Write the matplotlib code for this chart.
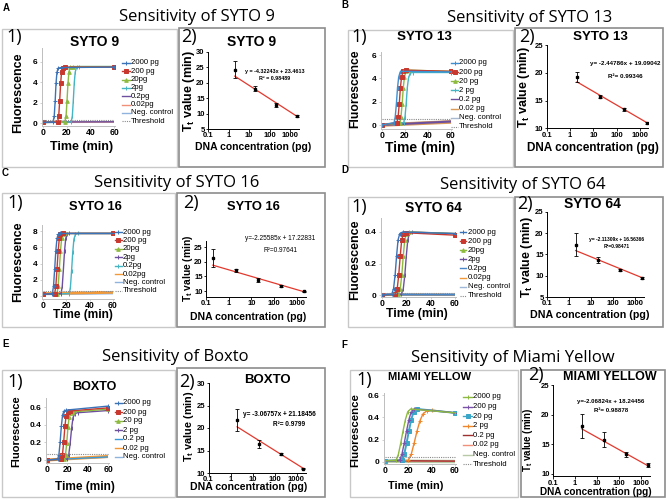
import numpy as np
import matplotlib
matplotlib.use("Agg")
import matplotlib.pyplot as plt
from matplotlib.patches import Rectangle
from matplotlib.lines import Line2D
from matplotlib.ticker import LogLocator, NullFormatter
from matplotlib.transforms import blended_transform_factory

plt.rcParams['font.family'] = ['Liberation Sans', 'DejaVu Sans']
plt.rcParams['mathtext.fontset'] = 'custom'
plt.rcParams['mathtext.rm'] = 'Liberation Sans:bold'
plt.rcParams['mathtext.it'] = 'Liberation Sans:bold'
plt.rcParams['mathtext.bf'] = 'Liberation Sans:bold'

W, H = 666, 500

# ======================= DATA =======================
time_ticks = [0, 20, 40, 60]

# ---- Panel A : SYTO 9 ----
A_labels = ['2000 pg', '200 pg', '20pg', '2pg', '0.2pg', '0.02pg', 'Neg. control', 'Threshold']
A_t = [[0, 8.5, 9.5, 10.3, 11.0, 11.8, 12.8, 15, 60],
       [0, 12.3, 13.3, 14.1, 14.9, 15.7, 16.8, 19, 60],
       [0, 18.5, 19.5, 20.3, 21.1, 21.9, 23.0, 25, 60],
       [0, 23.8, 24.8, 25.6, 26.4, 27.2, 28.4, 30, 60],
       [0, 60], [0, 60], [0, 60]]
A_f = [[0.05, 0.1, 0.7, 2.2, 3.9, 5.0, 5.4, 5.45, 5.5],
       [0.05, 0.1, 0.7, 2.2, 3.9, 5.0, 5.45, 5.5, 5.5],
       [0.05, 0.1, 0.7, 2.2, 3.9, 5.0, 5.5, 5.55, 5.55],
       [0.05, 0.1, 0.7, 2.2, 3.9, 5.0, 5.5, 5.55, 5.55],
       [0.1, 0.12], [0.08, 0.1], [0.05, 0.08]]
A_threshold = 0.3
A_conc = [2, 20, 200, 2000]
A_tt = [24.3, 18.0, 12.9, 9.2]
A_err = [2.8, 0.8, 0.6, 0.2]
A_fit = [-4.32243, 23.4613]
A_eq = ['y = -4.32243x + 23.4613', 'R² = 0.98489']

# ---- Panel B : SYTO 13 ----
B_labels = ['2000 pg', '200 pg', '20 pg', '2 pg', '0.2 pg', '0.02 pg', 'Neg. control', 'Threshold']
B_t = [[0, 10.5, 11.5, 12.5, 13.5, 14.5, 15.8, 18, 60],
       [0, 13, 14, 15, 16, 17, 18.3, 20.5, 60],
       [0, 15.5, 16.5, 17.5, 18.5, 19.5, 20.8, 23, 60],
       [0, 18.8, 20, 21, 22, 23, 24.5, 27, 60],
       [0, 60], [0, 60], [0, 60]]
B_f = [[0, 0.2, 0.7, 1.8, 3.2, 4.1, 4.55, 4.6, 4.55],
       [0, 0.2, 0.7, 1.8, 3.2, 4.1, 4.6, 4.7, 4.6],
       [0, 0.2, 0.7, 1.8, 3.2, 4.1, 4.6, 4.7, 4.6],
       [0, 0.2, 0.7, 1.8, 3.2, 4.0, 4.45, 4.5, 4.5],
       [0.0, 0.3], [0.0, 0.26], [0.05, 0.3]]
B_threshold = 0.5
B_conc = [2, 20, 200, 2000]
B_tt = [19.2, 15.7, 13.4, 11.0]
B_err = [0.9, 0.3, 0.3, 0.15]
B_fit = [-2.44786, 19.09042]
B_eq = ['y= -2.44786x + 19.09042', 'R²= 0.99346']

# ---- Panel C : SYTO 16 ----
C_labels = ['2000 pg', '200 pg', '20pg', '2pg', '0.2pg', '0.02pg', 'Neg. control', 'Threshold']
C_t = [[0, 8, 9, 10, 11, 12, 13, 15, 60],
       [0, 10, 11, 12, 13, 14, 15, 17, 60],
       [0, 12, 13, 14, 15, 16, 17, 19, 60],
       [0, 15.5, 16.5, 17.5, 18.5, 19.5, 20.5, 22.5, 60],
       [0, 22.5, 23.5, 24.5, 25.5, 26.5, 27.8, 30, 60],
       [0, 60], [0, 60]]
C_f = [[0.2, 0.3, 1.2, 3.3, 5.6, 7.1, 7.6, 7.7, 7.7],
       [0.2, 0.3, 1.2, 3.3, 5.6, 7.1, 7.6, 7.7, 7.7],
       [0.2, 0.3, 1.2, 3.3, 5.6, 7.1, 7.6, 7.7, 7.7],
       [0.2, 0.3, 1.2, 3.3, 5.6, 7.1, 7.6, 7.7, 7.7],
       [0.2, 0.3, 1.1, 3.1, 5.4, 7.0, 7.6, 7.7, 7.7],
       [0.3, 0.45], [0.2, 0.3]]
C_threshold = 0.6
C_conc = [0.2, 2, 20, 200, 2000]
C_tt = [21.3, 17.0, 13.8, 11.8, 9.9]
C_err = [3.0, 0.6, 0.6, 0.3, 0.2]
C_fit = [-2.25585, 17.22831]
C_eq = ['y=-2.25585x + 17.22831', 'R²=0.97641']

# ---- Panel D : SYTO 64 ----
D_labels = ['2000 pg', '200 pg', '20pg', '2pg', '0.2pg', '0.02pg', 'Neg. control', 'Threshold']
D_t = [[0, 8, 9.5, 10.8, 12, 13.2, 14.6, 17, 60],
       [0, 11, 12.5, 13.8, 15, 16.2, 17.6, 20, 60],
       [0, 13.5, 15, 16.3, 17.5, 18.7, 20.1, 22.5, 60],
       [0, 16, 17.5, 18.8, 20, 21.2, 22.6, 25, 60],
       [0, 60], [0, 60], [0, 60]]
D_f = [[0, 0.005, 0.04, 0.13, 0.25, 0.35, 0.39, 0.40, 0.39],
       [0, 0.005, 0.04, 0.13, 0.25, 0.35, 0.39, 0.395, 0.38],
       [0, 0.005, 0.04, 0.13, 0.25, 0.35, 0.39, 0.40, 0.39],
       [0, 0.005, 0.04, 0.13, 0.25, 0.35, 0.395, 0.40, 0.39],
       [0.003, 0.002], [0.002, 0.0], [0.004, 0.003]]
D_threshold = 0.015
D_conc = [2, 20, 200, 2000]
D_tt = [17.3, 13.8, 11.4, 9.5]
D_err = [2.7, 0.7, 0.3, 0.2]
D_fit = [-2.11309, 16.56366]
D_eq = ['y= -2.11309x + 16.56366', 'R²=0.98471']

# ---- Panel E : BOXTO ----
E_labels = ['2000 pg', '200 pg', '20 pg', '2 pg', '0.2 pg', '0.02 pg', 'Neg. control']
E_t = [[0, 10.5, 11.7, 12.9, 14.1, 15.3, 16.8, 19, 60],
       [0, 14, 15.2, 16.4, 17.6, 18.8, 20.3, 22.5, 60],
       [0, 17, 18.2, 19.4, 20.6, 21.8, 23.3, 25.5, 60],
       [0, 20, 21.4, 22.8, 24.2, 25.6, 27.3, 30, 60],
       [0, 60], [0, 60], [0, 60]]
E_f = [[0, 0.01, 0.06, 0.2, 0.38, 0.51, 0.555, 0.565, 0.61],
       [0, 0.01, 0.06, 0.2, 0.38, 0.5, 0.545, 0.555, 0.59],
       [0, 0.01, 0.06, 0.19, 0.37, 0.49, 0.535, 0.545, 0.575],
       [0, 0.01, 0.06, 0.19, 0.36, 0.48, 0.525, 0.535, 0.56],
       [0.0, 0.035], [0.0, 0.04], [0.005, 0.03]]
E_threshold = 0.07
E_conc = [2, 20, 200, 2000]
E_tt = [21.8, 16.4, 14.2, 11.0]
E_err = [2.4, 0.9, 0.3, 0.2]
E_fit = [-3.06757, 21.18456]
E_eq = ['y= -3.06757x + 21.18456', 'R²= 0.9799']

# ---- Panel F : MIAMI YELLOW ----
F_labels = ['2000 pg', '200 pg', '20 pg', '2 pg', '0.2 pg', '0.02 pg', 'Neg. control', 'Threshold']
F_t = [[0, 9.5, 11.5, 13.5, 15.5, 17.5, 19.5, 22, 60],
       [0, 12.5, 14.5, 16.5, 18.5, 20.5, 22.5, 25, 60],
       [0, 14.5, 16.5, 18.5, 20.5, 22.5, 24.5, 27.5, 60],
       [0, 20, 22.5, 25, 27.5, 30, 32.5, 36, 40, 60],
       [0, 60], [0, 60], [0, 60]]
F_f = [[0.01, 0.015, 0.07, 0.17, 0.28, 0.38, 0.45, 0.475, 0.44],
       [0.01, 0.015, 0.07, 0.17, 0.28, 0.38, 0.45, 0.475, 0.44],
       [0.01, 0.015, 0.07, 0.17, 0.28, 0.38, 0.45, 0.475, 0.44],
       [0.01, 0.015, 0.07, 0.17, 0.28, 0.37, 0.43, 0.46, 0.465, 0.44],
       [0.012, 0.008], [0.01, 0.006], [0.008, 0.004]]
F_threshold = 0.045
F_conc = [2, 20, 200, 2000]
F_tt = [18.1, 15.8, 13.3, 11.5]
F_err = [2.0, 1.3, 0.4, 0.3]
F_fit = [-2.06824, 18.24456]
F_eq = ['y=-2.06824x + 18.24456', 'R²= 0.98878']

conc_ticks = [0.1, 1, 10, 100, 1000]
conc_ticklabels = ['0.1', '1', '10', '100', '1000']

# ======================= STYLE =======================
BLUE, RED, GREEN, CYAN, PURPLE = '#3b73b9', '#c8382e', '#8dba3f', '#45b5c4', '#6c4f9e'
SALMON, ORANGE, LBLUE = '#f0907a', '#f29a3a', '#8fb3dd'
A_style = dict(colors=[BLUE, RED, GREEN, CYAN, PURPLE, SALMON, LBLUE],
               markers=['+', 's', '^', '|', '', '', ''], widths=[1, 1, 1, 1, 1, 1, 1])
B_style = dict(colors=['#3d8fd1', RED, GREEN, CYAN, PURPLE, '#d99a5a', '#a9b9cf'],
               markers=['|', 's', '^', '|', '', '', ''], widths=[1, 1, 1, 1, 1.5, 2.6, 1.5])
C_style = dict(colors=[BLUE, RED, GREEN, PURPLE, CYAN, ORANGE, LBLUE],
               markers=['+', 's', '^', '|', '|', '', ''], widths=[1, 1, 1, 1, 1, 2, 1.2])
D_style = dict(colors=[BLUE, RED, GREEN, PURPLE, '#4a86c8', ORANGE, '#9fb8d8'],
               markers=['+', 's', '^', '|', '', '', ''], widths=[1, 1, 1, 1, 1.5, 1.5, 1.5])
E_style = dict(colors=[BLUE, RED, GREEN, PURPLE, '#3a9ad9', ORANGE, LBLUE],
               markers=['+', 's', '^', '|', '', '', ''], widths=[1, 1, 1, 1, 1, 2.2, 1])
F_style = dict(colors=[GREEN, '#7b52ab', '#3aa6c8', '#f0862a', '#9e2f2f', SALMON, '#b8c9a8'],
               markers=['|', '+', 's', '+', '', '', ''], widths=[1, 1, 1.4, 1, 1, 1, 2.5])

# ======================= LAYOUT (pixels) =======================
A_lay = dict(letter=(3, 8), title=('Sensitivity of SYTO 9', 197, 17),
             box1=(2, 29, 177, 167), box2=(179, 28, 325, 167), n1=(6, 37), n2=(181, 37),
             t1=('SYTO 9', 95, 42, 10), t2=('SYTO 9', 252, 42, 10),
             x0=43, x60=114, y0=123, yv=62, v=6, ylim=(-0.3, 7.4), yticks=[0, 2, 4, 6],
             leg=(122, 130, 131, 63, 8.3), flu=(18, 93, 9), time=(82, 147, 9),
             x01=208, dec=20.6, xhi=2500, yA=52, vA=30, yB=129, vB=5, ylim2=(5, 30),
             yticks2=[5, 10, 15, 20, 25, 30], eq=(275, 71, 79, 3.9, 'bold'),
             dna=(253, 147, 7.5), ttl=(189, 91, 9))
B_lay = dict(letter=(341, 5), title=('Sensitivity of SYTO 13', 530, 18),
             box1=(348, 30, 513, 167), box2=(515, 28, 663, 167), n1=(351, 37), n2=(519, 37),
             t1=('SYTO 13', 424, 37, 9.6), t2=('SYTO 13', 600, 37, 9.6),
             x0=382, x60=451, y0=125, yv=55, v=6, ylim=(-0.3, 6.3), yticks=[0, 2, 4, 6],
             leg=(451, 458, 459, 63, 9.1), flu=(355, 89, 8.7), time=(420, 148, 10),
             x01=546.7, dec=23.3, xhi=2300, yA=45, vA=25, yB=128.3, vB=10, ylim2=(10, 25),
             yticks2=[10, 15, 20, 25], eq=(625, 63, 76, 4.5, 'bold'),
             dna=(593, 148, 8.5), ttl=(524, 87, 9))
C_lay = dict(letter=(2, 173), title=('Sensitivity of SYTO 16', 177, 183),
             box1=(2, 193, 175, 327), box2=(177, 193, 325, 327), n1=(7, 203), n2=(183, 203),
             t1=('SYTO 16', 95, 207, 9.3), t2=('SYTO 16', 253, 207, 9.3),
             x0=43, x60=113, y0=296, yv=231, v=8, ylim=(-0.4, 8.8), yticks=[0, 2, 4, 6, 8],
             leg=(115, 122, 123, 232, 8.4), flu=(18, 262, 9), time=(83, 315, 8.6),
             x01=206, dec=22.7, xhi=2500, yA=247, vA=25, yB=291, vB=10, ylim2=(8, 27),
             yticks2=[10, 15, 20, 25], eq=(280, 238, 250, 4.7, 'normal'),
             dna=(248, 317, 7.5), ttl=(188, 268, 7.4))
D_lay = dict(letter=(341, 170), title=('Sensitivity of SYTO 64', 523, 185),
             box1=(348, 197, 513, 327), box2=(515, 197, 663, 327), n1=(351, 207), n2=(517, 204),
             t1=('SYTO 64', 433, 208, 10), t2=('SYTO 64', 592, 204, 10),
             x0=382, x60=455, y0=295, yv=232, v=0.4, ylim=(-0.015, 0.49), yticks=[0, 0.2, 0.4],
             leg=(460, 466, 468, 232, 9.1), flu=(355, 260, 9), time=(417, 314, 8.8),
             x01=547, dec=22, xhi=2600, yA=212, vA=25, yB=297, vB=5, ylim2=(5, 25),
             yticks2=[5, 10, 15, 20, 25], eq=(617, 239, 247, 3.6, 'bold'),
             dna=(590, 315, 7.7), ttl=(527, 257, 9))
E_lay = dict(letter=(2, 344), title=('Sensitivity of Boxto', 175, 357),
             box1=(2, 370, 175, 497), box2=(177, 368, 325, 497), n1=(7, 382), n2=(179, 382),
             t1=('BOXTO', 94, 387, 9), t2=('BOXTO', 267, 380, 9.5),
             x0=47, x60=108, y0=460, yv=407, v=0.6, ylim=(-0.03, 0.7), yticks=[0, 0.2, 0.4, 0.6],
             leg=(115, 122, 123, 403, 9), flu=(16, 431, 8), time=(85, 487, 8.6),
             x01=208.5, dec=22, xhi=2600, yA=383, vA=30, yB=473, vB=10, ylim2=(10, 30),
             yticks2=[10, 15, 20, 25, 30], eq=(279, 415, 425, 4.7, 'bold'),
             dna=(249, 487, 7.6), ttl=(189, 426, 7.8))
E_lay['eqx2'] = 289
F_lay = dict(letter=(341, 345), title=('Sensitivity of Miami Yellow', 513, 358),
             box1=(350, 370, 518, 497), box2=(521, 370, 665, 497), n1=(356, 380), n2=(528, 375),
             t1=('MIAMI YELLOW', 430, 377, 8), t2=('MIAMI YELLOW', 610, 377, 9),
             x0=385, x60=455, y0=462, yv=395, v=0.6, ylim=(-0.02, 0.62), yticks=[0, 0.2, 0.4, 0.6],
             leg=(463, 472, 473, 397, 9.6), flu=(355, 430, 8.2), time=(416, 486, 7.9),
             x01=553, dec=22, xhi=2600, yA=385, vA=25, yB=474, vB=10, ylim2=(9.6, 25),
             yticks2=[10, 15, 20, 25], eq=(611, 402, 411, 4.4, 'bold'),
             dna=(596, 492, 7.2), ttl=(528, 440, 7))

fig = plt.figure(figsize=(W / 100, H / 100), dpi=100)
fig.patch.set_facecolor('white')


def frac_rect(l, t, r, b):
    return [l / W, 1 - b / H, (r - l) / W, (b - t) / H]


def ftext(x, y, s, **kw):
    return fig.text(x / W, 1 - y / H, s, **kw)


def box(l, t, r, b, color, lw):
    fig.add_artist(Rectangle((l / W, 1 - b / H), (r - l) / W, (b - t) / H,
                             transform=fig.transFigure, fill=False, ec=color, lw=lw, zorder=0.5))


def fmt(v):
    return '{:g}'.format(v)


def draw_panel(letter, lay, labels, times, fluor, thr, style, conc, tt, err, fit, eq):
    ftext(*lay['letter'], letter, fontsize=7, fontweight='bold', ha='left', va='center')
    s, x, y = lay['title']
    ftext(x, y, s, fontsize=12, family='Open Sans', ha='center', va='center')
    box(*lay['box1'], '#c8c8c8', 1.0)
    box(*lay['box2'], '#8c8c8c', 1.2)
    ftext(*lay['n1'], '1)', fontsize=13, family='Open Sans', ha='left', va='center')
    ftext(*lay['n2'], '2)', fontsize=13, family='Open Sans', ha='left', va='center')
    s, x, y, fs = lay['t1']
    ftext(x, y, s, fontsize=fs, fontweight='bold', ha='center', va='center')
    s, x, y, fs = lay['t2']
    ftext(x, y, s, fontsize=fs, fontweight='bold', ha='center', va='center')

    # ---- amplification curves ----
    x0, x60 = lay['x0'], lay['x60']
    ppm = (x60 - x0) / 60.0
    xlo, xhi = -1.0, 61.0
    ppu = (lay['y0'] - lay['yv']) / lay['v']
    ylo, yhi = lay['ylim']
    ybot = lay['y0'] - ylo * ppu
    ax = fig.add_axes(frac_rect(x0 + xlo * ppm, lay['y0'] - yhi * ppu, x0 + xhi * ppm, ybot))
    ax.set_zorder(2)
    ax.patch.set_alpha(0)
    n = len(times)
    for i in range(n - 1, -1, -1):
        c = style['colors'][i]
        m = style['markers'][i] or None
        ax.plot(times[i], fluor[i], color=c, lw=style['widths'][i], marker=m,
                ms=2.6, mew=0.7, mfc=c, solid_capstyle='butt')
    ax.plot([0, 60], [thr, thr], ls=(0, (1, 1)), color='#8a8a8a', lw=0.8)
    ax.set_xlim(xlo, xhi)
    ax.set_ylim(ylo, yhi)
    ax.set_xticks(time_ticks)
    ax.set_xticklabels([])
    ax.set_yticks(lay['yticks'])
    ax.set_yticklabels([fmt(v) for v in lay['yticks']], fontsize=6, fontweight='bold')
    for sp in ['top', 'right']:
        ax.spines[sp].set_visible(False)
    for sp in ['left', 'bottom']:
        ax.spines[sp].set_color('#bdbdbd')
        ax.spines[sp].set_linewidth(0.7)
    ax.tick_params(length=1.5, width=0.5, color='#bdbdbd', labelcolor='black', pad=1.5)
    trans = blended_transform_factory(ax.transData, fig.transFigure)
    for tv in time_ticks:
        ax.text(tv, 1 - (ybot + 6.5) / H, fmt(tv), transform=trans, fontsize=6.2,
                fontweight='bold', color='black', ha='center', va='center',
                clip_on=False, zorder=10)

    # ---- legend (drawn entry by entry) ----
    hx0, hx1, tx, ly, dy = lay['leg']
    for i, lab in enumerate(labels):
        yy = 1 - (ly + i * dy) / H
        if lab == 'Threshold':
            fig.add_artist(Line2D([hx0 / W, hx1 / W], [yy, yy], transform=fig.transFigure,
                                  color='#8a8a8a', lw=0.8, ls=(0, (1, 1))))
        else:
            c = style['colors'][i]
            fig.add_artist(Line2D([hx0 / W, hx1 / W], [yy, yy], transform=fig.transFigure,
                                  color=c, lw=1.0))
            m = style['markers'][i]
            if m:
                fig.add_artist(Line2D([(hx0 + hx1) / 2 / W], [yy], transform=fig.transFigure,
                                      color=c, marker=m, ms=2.6, mew=0.7, lw=0))
        fig.text(tx / W, yy, lab, fontsize=5.6, ha='left', va='center')

    ftext(*lay['flu'][:2], 'Fluorescence', fontsize=lay['flu'][2], fontweight='bold',
          rotation=90, ha='center', va='center')
    ftext(*lay['time'][:2], 'Time (min)', fontsize=lay['time'][2], fontweight='bold',
          ha='center', va='center')

    # ---- Tt vs concentration ----
    dec = lay['dec']
    x01 = lay['x01']
    left = x01
    right = x01 + dec * (np.log10(lay['xhi']) + 1)
    ppu2 = (lay['yB'] - lay['yA']) / (lay['vA'] - lay['vB'])
    ylo2, yhi2 = lay['ylim2']
    top = lay['yA'] - (yhi2 - lay['vA']) * ppu2
    bottom = lay['yA'] + (lay['vA'] - ylo2) * ppu2
    ax2 = fig.add_axes(frac_rect(left, top, right, bottom))
    ax2.set_zorder(2)
    ax2.patch.set_alpha(0)
    ax2.set_xscale('log')
    xs = np.array([conc[0], conc[-1]], dtype=float)
    ax2.plot(xs, fit[0] * np.log10(xs) + fit[1], color='#e2392e', lw=0.9, zorder=2)
    ax2.errorbar(conc, tt, yerr=err, fmt='s', color='black', ms=1.8, capsize=1.2,
                 elinewidth=0.6, capthick=0.6, zorder=3)
    ax2.set_xlim(0.1, lay['xhi'])
    ax2.set_ylim(ylo2, yhi2)
    ax2.set_xticks(conc_ticks)
    ax2.set_xticklabels(conc_ticklabels, fontsize=5.5, fontweight='bold')
    ax2.xaxis.set_minor_locator(LogLocator(base=10, subs=np.arange(2, 10)))
    ax2.xaxis.set_minor_formatter(NullFormatter())
    ax2.set_yticks(lay['yticks2'])
    ax2.set_yticklabels([fmt(v) for v in lay['yticks2']], fontsize=5.5, fontweight='bold')
    for sp in ['top', 'right']:
        ax2.spines[sp].set_visible(False)
    for sp in ['left', 'bottom']:
        ax2.spines[sp].set_linewidth(0.7)
    ax2.tick_params(which='major', length=1.8, width=0.6, pad=0.6)
    ax2.tick_params(which='minor', length=1, width=0.4)
    ex, ey1, ey2, efs, ew = lay['eq']
    ex2 = lay.get('eqx2', ex)
    ftext(ex, ey1, eq[0], fontsize=efs, fontweight=ew, ha='center', va='center')
    ftext(ex2, ey2, eq[1], fontsize=efs, fontweight=ew, ha='center', va='center')
    ftext(*lay['dna'][:2], 'DNA concentration (pg)', fontsize=lay['dna'][2], fontweight='bold',
          ha='center', va='center')
    ftext(*lay['ttl'][:2], r'T$_{\mathrm{t}}$ value (min)', fontsize=lay['ttl'][2],
          fontweight='bold', rotation=90, ha='center', va='center')


draw_panel('A', A_lay, A_labels, A_t, A_f, A_threshold, A_style, A_conc, A_tt, A_err, A_fit, A_eq)
draw_panel('B', B_lay, B_labels, B_t, B_f, B_threshold, B_style, B_conc, B_tt, B_err, B_fit, B_eq)
draw_panel('C', C_lay, C_labels, C_t, C_f, C_threshold, C_style, C_conc, C_tt, C_err, C_fit, C_eq)
draw_panel('D', D_lay, D_labels, D_t, D_f, D_threshold, D_style, D_conc, D_tt, D_err, D_fit, D_eq)
draw_panel('E', E_lay, E_labels, E_t, E_f, E_threshold, E_style, E_conc, E_tt, E_err, E_fit, E_eq)
draw_panel('F', F_lay, F_labels, F_t, F_f, F_threshold, F_style, F_conc, F_tt, F_err, F_fit, F_eq)

fig.savefig('out.png', dpi=100, facecolor='white')
